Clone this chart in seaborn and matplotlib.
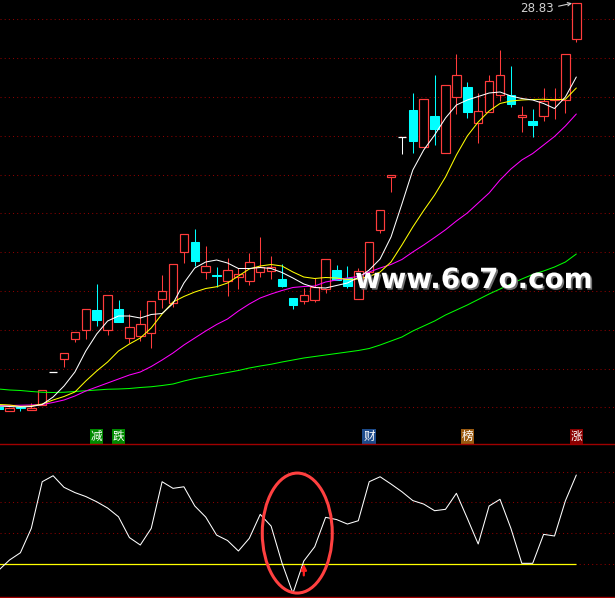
import numpy as np
import pandas as pd
import matplotlib
matplotlib.use("Agg")
import matplotlib.pyplot as plt
import matplotlib.transforms as mtrans
import matplotlib.patheffects as pe
from matplotlib.patches import Ellipse
import seaborn as sns

# ---------------- data ----------------
idx = list(range(-1, 53))

open_ = [12.69, 12.53, 12.66, 12.58, 12.76, 14.07, 14.59, 15.39, 15.75, 16.56,
         15.75, 16.60, 15.43, 15.51, 15.65, 16.99, 16.83, 18.87, 19.28, 18.09,
         17.98, 17.72, 17.89, 17.71, 18.08, 18.11, 17.80, 17.04, 16.93, 16.97,
         17.40, 18.16, 17.86, 17.02, 18.08, 19.78, 21.88, 23.49, 24.56, 23.07,
         24.32, 22.83, 25.07, 25.47, 24.03, 24.47, 25.15, 25.15, 24.28, 24.13,
         24.33, 24.96, 24.95, 27.41]
close = [12.59, 12.64, 12.63, 12.66, 13.35, 14.07, 14.83, 15.67, 16.59, 16.17,
         17.15, 16.09, 15.87, 15.99, 16.91, 17.31, 18.39, 19.60, 18.53, 18.32,
         17.94, 18.15, 18.00, 18.47, 18.29, 18.28, 17.52, 16.77, 17.15, 17.49,
         18.59, 17.76, 17.53, 18.12, 19.27, 20.55, 21.95, 23.49, 23.33, 24.99,
         23.81, 25.55, 25.95, 24.49, 24.51, 25.71, 25.95, 24.81, 24.36, 23.97,
         24.91, 25.00, 26.80, 28.83]
high = [12.69, 12.64, 12.69, 12.85, 13.35, 14.07, 14.83, 15.67, 16.59, 17.60,
        17.15, 16.96, 16.39, 16.55, 16.91, 17.95, 18.39, 19.60, 19.80, 19.13,
        18.28, 18.63, 18.25, 18.85, 19.48, 18.72, 18.40, 17.04, 17.44, 17.83,
        18.59, 18.36, 18.32, 18.23, 19.27, 20.55, 21.95, 23.49, 25.23, 24.99,
        25.95, 25.55, 26.80, 25.68, 25.23, 25.95, 26.96, 26.32, 24.72, 24.60,
        25.44, 25.44, 26.80, 28.83]
low = [12.59, 12.53, 12.53, 12.58, 12.76, 14.07, 14.29, 15.27, 15.41, 15.93,
       15.57, 16.09, 15.23, 15.33, 15.05, 16.65, 16.68, 18.43, 18.33, 17.81,
       17.47, 17.13, 17.39, 17.55, 17.89, 17.81, 17.47, 16.61, 16.81, 16.89,
       17.24, 17.76, 17.43, 17.02, 18.00, 19.65, 21.29, 22.82, 22.85, 23.07,
       23.17, 22.83, 24.39, 24.23, 23.25, 24.47, 24.93, 24.69, 23.69, 23.49,
       24.13, 24.21, 24.43, 27.28]

ma_white = [12.72, 12.70, 12.68, 12.70, 12.78, 13.08, 13.52, 14.08, 14.92, 15.60,
            16.12, 16.32, 16.32, 16.24, 16.38, 16.42, 16.82, 17.64, 18.24, 18.48,
            18.56, 18.44, 18.22, 18.22, 18.26, 18.22, 18.06, 17.84, 17.60, 17.46,
            17.44, 17.54, 17.64, 17.86, 18.16, 18.60, 19.48, 20.80, 22.16, 22.96,
            23.56, 24.24, 24.76, 24.96, 25.10, 25.24, 25.28, 25.12, 25.02, 24.96,
            24.82, 24.62, 25.08, 25.88]
ma_yellow = [12.78, 12.76, 12.70, 12.72, 12.80, 12.96, 13.10, 13.28, 13.72, 14.12,
             14.48, 14.92, 15.20, 15.44, 15.84, 16.40, 16.88, 17.10, 17.28, 17.42,
             17.49, 17.64, 17.92, 18.20, 18.32, 18.38, 18.32, 18.08, 17.88, 17.82,
             17.86, 17.84, 17.78, 17.80, 17.90, 18.08, 18.48, 19.16, 19.88, 20.54,
             21.16, 21.88, 22.76, 23.52, 24.08, 24.52, 24.82, 24.92, 24.96, 24.98,
             24.99, 24.97, 24.99, 25.44]
ma_magenta = [12.73, 12.74, 12.75, 12.76, 12.78, 12.86, 12.96, 13.12, 13.32, 13.48,
              13.64, 13.80, 13.96, 14.08, 14.30, 14.56, 14.84, 15.16, 15.44, 15.72,
              15.98, 16.20, 16.52, 16.80, 17.04, 17.20, 17.34, 17.46, 17.50, 17.52,
              17.68, 17.76, 17.84, 17.90, 18.08, 18.24, 18.38, 18.58, 18.88, 19.16,
              19.46, 19.77, 20.12, 20.44, 20.84, 21.24, 21.76, 22.20, 22.56, 22.82,
              23.16, 23.50, 23.92, 24.40]
ma_green = [13.40, 13.36, 13.34, 13.30, 13.27, 13.26, 13.27, 13.30, 13.33, 13.36,
            13.39, 13.40, 13.42, 13.46, 13.49, 13.54, 13.60, 13.72, 13.82, 13.90,
            13.98, 14.06, 14.14, 14.24, 14.32, 14.39, 14.48, 14.56, 14.64, 14.70,
            14.76, 14.82, 14.88, 14.94, 15.02, 15.16, 15.32, 15.48, 15.72, 15.92,
            16.12, 16.36, 16.56, 16.76, 16.98, 17.20, 17.40, 17.60, 17.80, 17.98,
            18.12, 18.28, 18.48, 18.80]

osc = [-6.5, 4.7, 12.6, 39.1, 89.8, 96.3, 83.7, 78.0, 73.7, 68.0,
       61.2, 51.7, 29.1, 21.0, 39.1, 89.8, 82.6, 84.3, 63.4, 51.4,
       31.8, 25.9, 14.5, 28.3, 54.3, 41.6, 1.4, -31.5, 3.6, 19.1,
       51.1, 48.7, 43.8, 47.4, 89.8, 95.2, 87.3, 78.9, 69.3, 65.5,
       58.3, 59.8, 77.2, 50.0, 22.1, 63.4, 70.7, 39.1, 1.1, 1.1,
       32.6, 30.8, 69.1, 97.1]

signal_text = ["减", "跌", "财", "榜", "涨"]
signal_idx = [8, 10, 33, 42, 52]
signal_bg = ["#008a00", "#008a00", "#1c4a8a", "#9a5a10", "#8a0000"]

high_label = "28.83"
watermark = "www.6o7o.com"

# ---------------- style ----------------
sns.set_theme(style="dark", rc={"axes.facecolor": "black", "figure.facecolor": "black"})
plt.rcParams["font.family"] = ["DejaVu Sans", "Noto Sans CJK SC"]

RED = "#ff3c3c"
CYAN = "#00ffff"
GRID = "#8b0000"
LW = 0.75

W, H = 615.0, 598.0
fig = plt.figure(figsize=(W / 100, H / 100), dpi=100, facecolor="black")
ax = fig.add_axes([0, (H - 444) / H, 1, 444 / H])
ax2 = fig.add_axes([0, (H - 597) / H, 1, 153 / H])

for a in (ax, ax2):
    a.set_facecolor("black")
    a.set_xlim(-0.872, 55.55)
    a.tick_params(left=False, bottom=False, labelleft=False, labelbottom=False)
    a.set_axisbelow(True)
    a.grid(False)
    for s in a.spines.values():
        s.set_visible(False)

ax.set_ylim(11.20, 28.96)
ax2.set_ylim(-35.5, 130.8)

# grid lines
ax.set_yticks(np.linspace(12.668, 28.188, 11))
ax.yaxis.grid(True, color=GRID, linestyle=(0, (1, 3)), linewidth=LW)
ax2.set_yticks([0, 100 / 3 * 1.011, 200 / 3 * 1.011, 100])
ax2.yaxis.grid(True, color=GRID, linestyle=(0, (1, 3)), linewidth=LW)
for s in ("top", "bottom"):
    ax2.spines[s].set_visible(True)
    ax2.spines[s].set_color("#a00000")
    ax2.spines[s].set_linewidth(1.0)

# ---------------- candles ----------------
df = pd.DataFrame({"k": idx, "open": open_, "close": close, "high": high, "low": low})
df["lo"] = df[["open", "close"]].min(axis=1)
df["hi"] = df[["open", "close"]].max(axis=1)
up = df[df.close > df.open]
dn = df[df.close < df.open]
fl = df[df.close == df.open]
BW = 0.78

for part, col in ((up, RED), (dn, CYAN), (fl, "white")):
    ax.vlines(part.k, part.low, part.lo, colors=col, lw=LW, zorder=2)
    ax.vlines(part.k, part.hi, part.high, colors=col, lw=LW, zorder=2)

ax.bar(up.k, up.hi - up.lo, bottom=up.lo, width=BW, facecolor="black",
       edgecolor=RED, linewidth=LW * 1.15, zorder=3)
ax.bar(dn.k, dn.hi - dn.lo, bottom=dn.lo, width=BW, facecolor=CYAN,
       edgecolor=CYAN, linewidth=LW, zorder=3)
ax.hlines(fl.close, fl.k - BW / 2, fl.k + BW / 2, colors="white", lw=LW * 1.2, zorder=3)

# ---------------- moving averages ----------------
for series, col in ((ma_green, "#00ff00"), (ma_magenta, "#ff00ff"),
                    (ma_yellow, "#ffff00"), (ma_white, "white")):
    sns.lineplot(x=idx, y=series, color=col, lw=LW, ax=ax, zorder=4, estimator=None)

# high label
ax.annotate(high_label, xy=(52 - BW / 2, 28.83), xytext=(48.4, 28.62),
            color="#d0d0d0", fontsize=8.6, ha="center", va="center",
            arrowprops=dict(arrowstyle="->", color="#d0d0d0", lw=0.8,
                            shrinkA=1, shrinkB=0, relpos=(1.0, 0.6),
                            mutation_scale=6))

# watermark
fig.text(355 / W, (H - 288) / H, watermark, color="white", fontsize=20,
         fontweight="bold", family="DejaVu Sans", ha="left", va="baseline", zorder=10,
         path_effects=[pe.withSimplePatchShadow(offset=(1.2, -1.2),
                                                shadow_rgbFace="#707070", alpha=1.0)])

# signal labels
trans = mtrans.blended_transform_factory(ax.transData, ax.transAxes)
for t, k, bg in zip(signal_text, signal_idx, signal_bg):
    ax.text(k, (444 - 436.5) / 444, t, transform=trans, ha="center", va="center",
            color="white", fontsize=8.4, family=["Noto Sans CJK SC", "DejaVu Sans"],
            bbox=dict(boxstyle="square,pad=0.08", facecolor=bg, edgecolor="none"),
            zorder=6)

# ---------------- lower oscillator ----------------
ax2.hlines(0, -1, 52, colors="#ffff00", lw=LW * 1.2, zorder=3)
sns.lineplot(x=idx, y=osc, color="white", lw=LW, ax=ax2, zorder=4, estimator=None)
ax2.add_patch(Ellipse((26.4, 34.0), width=6.42, height=130.4, facecolor="none",
                      edgecolor="#ff4040", lw=2.2, zorder=5))
ax2.annotate("", xy=(27, 0.5), xytext=(27, -12),
             arrowprops=dict(arrowstyle="-|>", color="#ff2020", lw=1.6,
                             mutation_scale=8, shrinkA=0, shrinkB=0), zorder=6)

for a in (ax, ax2):
    a.set_xlabel("")
    a.set_ylabel("")

fig.savefig("out.png", dpi=100, facecolor="black")
